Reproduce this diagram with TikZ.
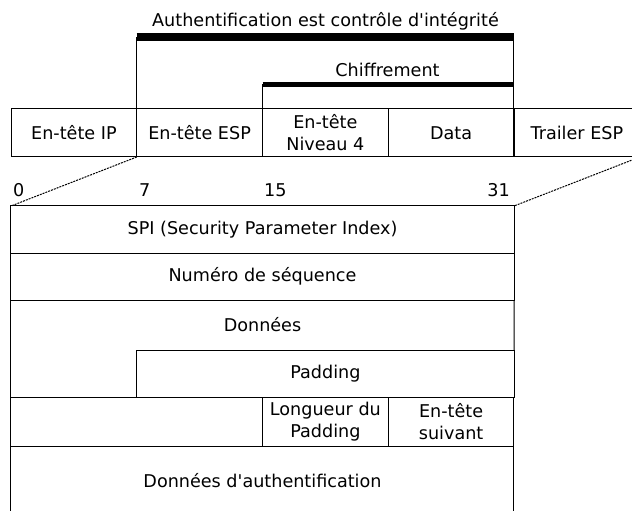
\documentclass[tikz,border=0pt]{standalone}
\usepackage{fontspec}
\setmainfont{DejaVu Sans}
\usepackage{tikz}

\begin{document}
\begin{tikzpicture}[x=1bp, y=-1bp,
    rule/.style={line width=1bp},
    field/.style={draw, rule, inner sep=0pt, outer sep=0pt, align=center,
      font=\fontsize{17.6bp}{22bp}\selectfont},
    label/.style={inner sep=0pt, font=\fontsize{17.6bp}{22bp}\selectfont},
    bar/.style={line width=#1, line cap=butt},
    zoomline/.style={rule, dash pattern=on 2bp off 1bp}]
  \useasboundingbox (0,0) rectangle (632,511);
  % IP packet with the ESP fields.
  \node[field, minimum width=125.75bp, minimum height=48bp] (ip) at (73.9,133) {En-tête IP};
  \node[field, minimum width=125.75bp, minimum height=48bp] (esp) at (199.6,133) {En-tête ESP};
  \node[field, minimum width=125.75bp, minimum height=48bp] (l4) at (325.4,133) {En-tête\\Niveau 4};
  \node[field, minimum width=125.75bp, minimum height=48bp] (data) at (451.1,133) {Data};
  \node[field, minimum width=125.75bp, minimum height=48bp] (trailer) at (576.9,133) {Trailer ESP};
  % Authentification: a thick bar over ESP header .. Data.
  \coordinate (authbar) at (0,37.5);
  \node[label, anchor=base] (authtxt) at (325.5,27) {Authentification est contrôle d\textquotesingle intégrité};
  \draw[rule] (esp.north west) -- (esp.north west |- authbar);
  \draw[rule] (data.north east) -- (data.north east |- authbar);
  \draw[bar=8bp] (esp.north west |- authbar) -- (data.north east |- authbar);
  % Chiffrement: a thinner bar over layer 4 header .. Data.
  \coordinate (cryptbar) at (0,84.5);
  \node[label, anchor=base] (crypttxt) at (387.5,77) {Chiffrement};
  \draw[rule] (l4.north west) -- (l4.north west |- cryptbar);
  \draw[bar=5bp] (l4.north west |- cryptbar) -- (data.north east |- cryptbar);
  % Bit positions.
  \node[label, anchor=base west] (b0) at (13,197) {0};
  \node[label, anchor=base west] (b7) at (139,197) {7};
  \node[label, anchor=base west] (b15) at (264,197) {15};
  \node[label, anchor=base east] (b31) at (510,197) {31};
  % ESP header, drawn in detail.
  \node[field, minimum width=503bp, minimum height=47bp] (spi) at (262.5,229.5) {SPI (Security Parameter Index)};
  \node[field, minimum width=503bp, minimum height=47bp] (seq) at (262.5,276.5) {Numéro de séquence};
  \node[label] (donnees) at (262.5,325) {Données};
  \node[field, minimum width=377.25bp, minimum height=47bp] (pad) at (325.4,373.5) {Padding};
  \node[field, minimum width=125.75bp, minimum height=49bp] (lpad) at (325.4,421.5) {Longueur du\\Padding};
  \node[field, minimum width=125.75bp, minimum height=49bp] (suiv) at (451.1,421.5) {En-tête\\suivant};
  \node[label] (authdata) at (262.5,481) {Données d\textquotesingle authentification};
  \draw[rule] (seq.south east) -- (pad.north east);
  \draw[rule] (seq.south west) |- (pad.south west);
  \draw[rule] (seq.south west |- pad.south) |- (lpad.south west);
  \draw[rule] (seq.south west |- lpad.south) -- ++(0,70);
  \draw[rule] (suiv.south east) -- ++(0,70);
  % Zoom from the packet to the header.
  \draw[zoomline] (esp.south west) -- (spi.north west);
  \draw[zoomline] (trailer.south east) -- (spi.north east);
\end{tikzpicture}
\end{document}
